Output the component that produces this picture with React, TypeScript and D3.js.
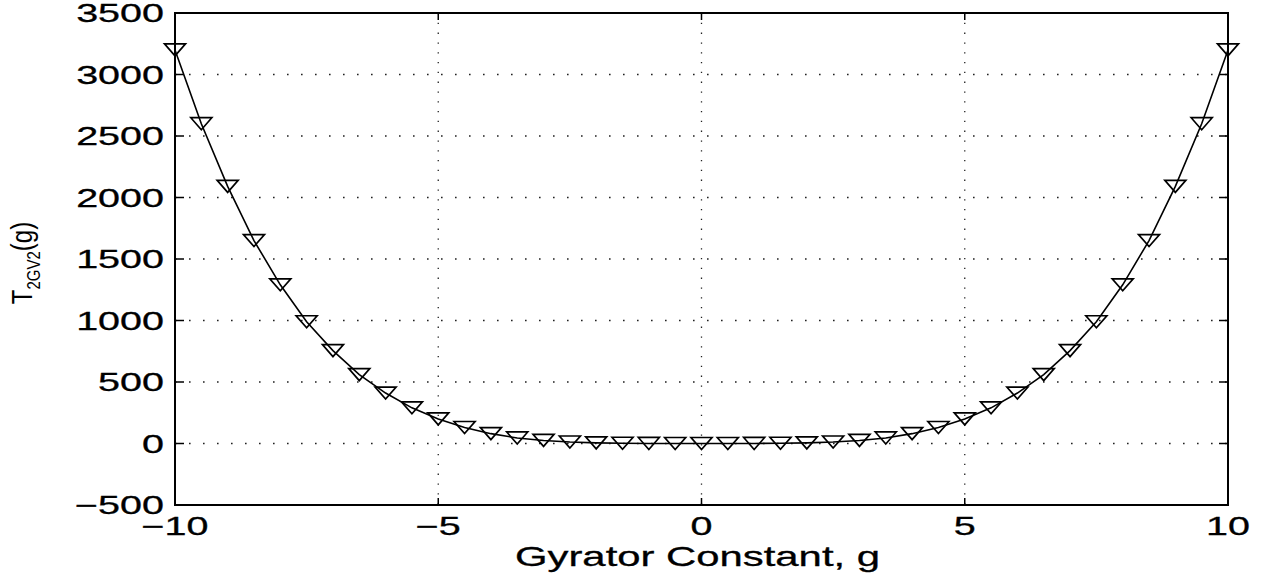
import React from "react";
import * as d3 from "d3";

const gValues = [-10, -9.5, -9, -8.5, -8, -7.5, -7, -6.5, -6, -5.5, -5, -4.5, -4, -3.5, -3, -2.5, -2, -1.5, -1, -0.5, 0, 0.5, 1, 1.5, 2, 2.5, 3, 3.5, 4, 4.5, 5, 5.5, 6, 6.5, 7, 7.5, 8, 8.5, 9, 9.5, 10];
const tValues = [3200, 2600, 2090, 1650, 1290, 990, 755, 560, 410, 290, 200, 130, 80, 45, 25, 12, 5, 2, 0.5, 0, 0, 0, 0.5, 2, 5, 12, 25, 45, 80, 130, 200, 290, 410, 560, 755, 990, 1290, 1650, 2090, 2600, 3200];
const xTicks = [-10, -5, 0, 5, 10];
const yTicks = [-500, 0, 500, 1000, 1500, 2000, 2500, 3000, 3500];
const xGrid = [-5, 0, 5];
const yGrid = [0, 500, 1000, 1500, 2000, 2500, 3000];

const W = 1279;
const H = 578;
const L = 175, R = 1228, T = 13, B = 505;
const SX = 1.58;
const FONT = "'Liberation Sans', Arial, Helvetica, sans-serif";

const fmt = (v: number) => (v < 0 ? "\u2212" + Math.abs(v) : String(v));

export default function App() {
  const x = d3.scaleLinear().domain([-10, 10]).range([L, R]);
  const y = d3.scaleLinear().domain([-500, 3500]).range([B, T]);
  const pts = gValues.map((g, i) => [x(g), y(tValues[i])] as [number, number]);
  const line = d3.line().curve(d3.curveLinear)(pts) || "";
  const tw = 10.5, th = 6;
  const tri = `M${-tw},${-th}L${tw},${-th}L0,${th}Z`;
  return (
    <div style={{ position: "absolute", left: 0, top: 0 }}>
      <svg width={W} height={H} style={{ display: "block", background: "#fff" }}>
        {/* grid */}
        {xGrid.map((g) => (
          <line key={"xg" + g} x1={x(g)} x2={x(g)} y1={T} y2={B} stroke="#222" strokeWidth={1.3} strokeDasharray="1.3,8.5" />
        ))}
        {yGrid.map((v) => (
          <line key={"yg" + v} x1={L} x2={R} y1={y(v)} y2={y(v)} stroke="#222" strokeWidth={1.3} strokeDasharray="1.6,12.4" />
        ))}
        {/* ticks */}
        {yTicks.map((v) => (
          <g key={"yt" + v}>
            <line x1={L} x2={L + 9} y1={y(v)} y2={y(v)} stroke="#000" strokeWidth={1.5} />
            <line x1={R} x2={R - 9} y1={y(v)} y2={y(v)} stroke="#000" strokeWidth={1.5} />
          </g>
        ))}
        {xTicks.map((v) => (
          <g key={"xt" + v}>
            <line x1={x(v)} x2={x(v)} y1={B} y2={B - 7} stroke="#000" strokeWidth={1.5} />
            <line x1={x(v)} x2={x(v)} y1={T} y2={T + 7} stroke="#000" strokeWidth={1.5} />
          </g>
        ))}
        {/* box */}
        <rect x={L} y={T} width={R - L} height={B - T} fill="none" stroke="#000" strokeWidth={2} />
        {/* data */}
        <path d={line} fill="none" stroke="#000" strokeWidth={1.6} />
        {pts.map((p, i) => (
          <path key={"m" + i} d={tri} transform={`translate(${p[0]},${p[1]})`} fill="none" stroke="#000" strokeWidth={1.7} strokeLinejoin="miter" />
        ))}
        {/* y tick labels */}
        {yTicks.map((v) => (
          <text key={"yl" + v} transform={`translate(${L - 11},${y(v)}) scale(${SX},1)`} textAnchor="end" dy="0.36em" fontFamily={FONT} fontSize={25} fill="#000" stroke="#000" strokeWidth={0.3}>
            {fmt(v)}
          </text>
        ))}
        {/* x tick labels */}
        {xTicks.map((v) => (
          <text key={"xl" + v} transform={`translate(${x(v)},${B + 30}) scale(${SX},1)`} textAnchor="middle" fontFamily={FONT} fontSize={25} fill="#000" stroke="#000" strokeWidth={0.3}>
            {fmt(v)}
          </text>
        ))}
        {/* x label */}
        <text transform={`translate(${(L + R) / 2 - 4},${B + 61}) scale(1.55,1)`} textAnchor="middle" fontFamily={FONT} fontSize={27} fill="#000" stroke="#000" strokeWidth={0.3}>
          Gyrator Constant, g
        </text>
        {/* y label */}
        <text transform={`translate(32,${(T + B) / 2 + 4}) scale(1.25,1) rotate(-90)`} textAnchor="middle" fontFamily={FONT} fontSize={24} fill="#000">
          T<tspan fontSize={15} dy={6}>2GV2</tspan>
          <tspan dy={-6}>(g)</tspan>
        </text>
      </svg>
    </div>
  );
}
